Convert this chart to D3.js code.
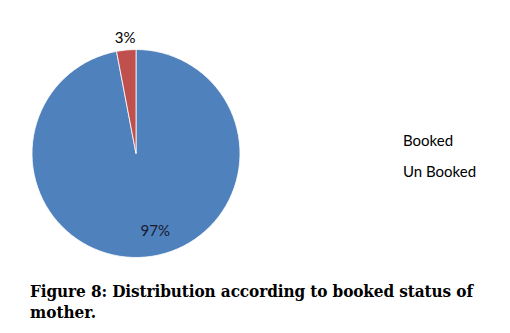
<!DOCTYPE html>
<html>
<head>
<meta charset="utf-8">
<script src="https://cdn.jsdelivr.net/npm/d3@7"></script>
<style>
  body { margin: 0; background: #fff; }
  svg { display: block; }
</style>
</head>
<body>
<div id="chart"></div>
<script>
var categories = ["Booked", "Un Booked"];
var values = [97, 3];
var colors = ["#4F81BD", "#C0504D"];
var captionLines = ["Figure 8: Distribution according to booked status of", "mother."];

var svgWidth = 510;
var svgHeight = 333;
var cx = 136, cy = 153.5, radius = 104;

var svg = d3.select("#chart")
    .append("svg")
    .attr("width", svgWidth)
    .attr("height", svgHeight);

var pie = d3.pie().sort(null).value(d => d);
var arcs = pie(values);

var arc = d3.arc().innerRadius(0).outerRadius(radius);

var pieGroup = svg.append("g")
    .attr("transform", `translate(${cx}, ${cy})`);

pieGroup.selectAll("path")
    .data(arcs)
    .enter().append("path")
    .attr("d", arc)
    .attr("fill", (d, i) => colors[i])
    .attr("stroke", "#fff")
    .attr("stroke-width", 0.8);

// percentage labels: big slice inside, small slice outside
var inArc = d3.arc().innerRadius(radius * 0.75).outerRadius(radius * 0.75);
var outArc = d3.arc().innerRadius(radius * 1.12).outerRadius(radius * 1.12);

pieGroup.selectAll("text.pct")
    .data(arcs)
    .enter().append("text")
    .attr("class", "pct")
    .attr("transform", (d, i) => {
        var p = i === 0 ? inArc.centroid(d) : outArc.centroid(d);
        if (i === 0) p[0] += 12;
        return `translate(${p[0]}, ${p[1]})`;
    })
    .attr("text-anchor", "middle")
    .attr("dy", "0.35em")
    .style("font-family", "Lato, 'Open Sans', sans-serif")
    .style("font-size", "15px")
    .style("fill", (d, i) => i === 0 ? "#1a1a2e" : "#000")
    .text(d => d.data + "%");

var legend = svg.append("g")
    .attr("transform", "translate(403, 146)");

legend.selectAll("text")
    .data(categories)
    .enter().append("text")
    .attr("x", 0)
    .attr("y", (d, i) => i * 31)
    .style("font-family", "Lato, 'Open Sans', sans-serif")
    .style("font-size", "15px")
    .style("fill", "#000")
    .text(d => d);

svg.append("g")
    .selectAll("text")
    .data(captionLines)
    .enter().append("text")
    .attr("x", 30)
    .attr("y", (d, i) => 297 + i * 21)
    .attr("textLength", (d, i) => i === 0 ? 443 : null)
    .attr("lengthAdjust", "spacing")
    .style("font-family", "'DejaVu Serif Condensed', 'DejaVu Serif', serif")
    .style("font-weight", "bold")
    .style("font-size", "17px")
    .style("fill", "#000")
    .text(d => d);
</script>
</body>
</html>
